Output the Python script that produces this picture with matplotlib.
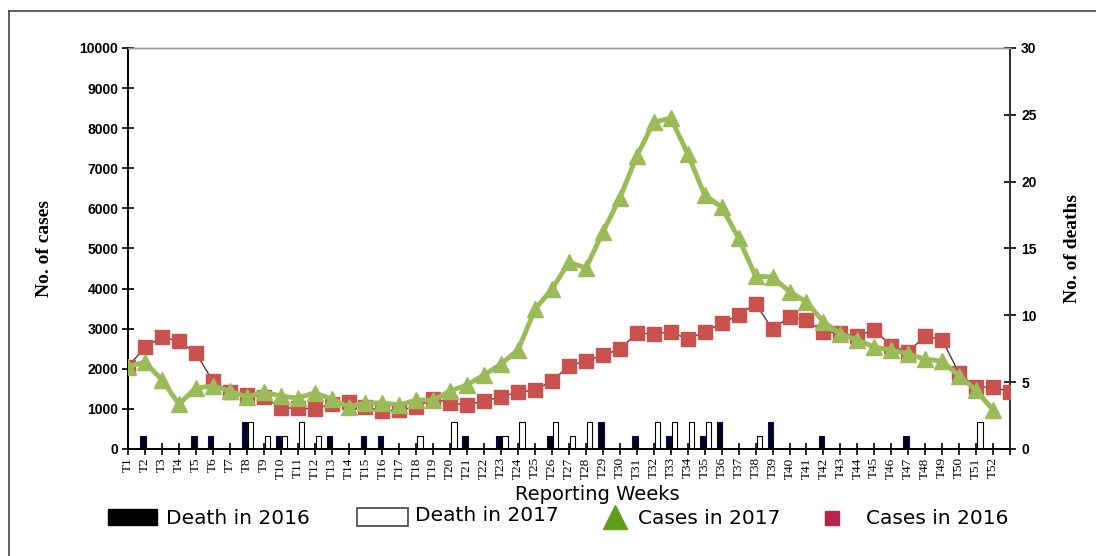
import numpy as np
import matplotlib
matplotlib.use("Agg")
import matplotlib.pyplot as plt
from matplotlib.patches import Rectangle
from matplotlib.lines import Line2D

weeks = ["T%d" % i for i in range(1, 53)]

cases_2017 = [2050, 2170, 1720, 1120, 1520, 1570, 1450, 1300, 1420, 1320,
              1270, 1400, 1250, 1050, 1150, 1150, 1100, 1220, 1220, 1450,
              1600, 1850, 2120, 2470, 3490, 3990, 4660, 4510, 5410, 6260,
              7310, 8150, 8250, 7360, 6330, 6030, 5260, 4310, 4290, 3920,
              3670, 3170, 2870, 2720, 2540, 2470, 2370, 2240, 2190, 1820,
              1470, 970]

# 2016 had one more reporting week
cases_2016 = [2050, 2540, 2790, 2690, 2390, 1700, 1420, 1350, 1300, 1020,
              1020, 1000, 1120, 1170, 1050, 950, 970, 1050, 1250, 1150,
              1100, 1200, 1300, 1420, 1470, 1700, 2070, 2200, 2340, 2490,
              2890, 2870, 2920, 2740, 2920, 3140, 3340, 3620, 2990, 3290,
              3220, 2920, 2890, 2820, 2970, 2570, 2420, 2820, 2720, 1890,
              1550, 1540, 1430]

death_2016 = [0, 1, 0, 0, 1, 1, 0, 2, 0, 1, 0, 0, 1, 0, 1, 1, 0, 0, 0, 0,
              1, 0, 1, 0, 0, 1, 0, 0, 2, 0, 1, 0, 1, 0, 1, 2, 0, 0, 2, 0,
              0, 1, 0, 0, 0, 0, 1, 0, 0, 0, 0, 0]
death_2017 = [0, 0, 0, 0, 0, 0, 0, 2, 1, 1, 2, 1, 0, 0, 0, 0, 0, 1, 0, 2,
              0, 0, 1, 2, 0, 2, 1, 2, 0, 0, 0, 2, 2, 2, 2, 0, 0, 1, 0, 0,
              0, 0, 0, 0, 0, 0, 0, 0, 0, 0, 2, 0]

x17 = np.arange(1, len(cases_2017) + 1)
x16 = np.arange(1, len(cases_2016) + 1)
d16 = np.array(death_2016)
d17 = np.array(death_2017)

fig = plt.figure(figsize=(10.96, 5.56), dpi=100)
ax = fig.add_axes([128 / 1096, 1 - 449 / 556, (1010 - 128) / 1096, (449 - 48) / 556])
ax2 = ax.twinx()

# deaths as thin bars on the right axis (skip empty weeks so no stub edges)
m16 = d16 > 0
m17 = d17 > 0
ax2.bar(x17[m16] - 0.12, d16[m16], width=0.32, color="black", edgecolor="#000080", linewidth=0.8)
ax2.bar(x17[m17] + 0.22, d17[m17], width=0.32, color="white", edgecolor="black", linewidth=0.8)
ax2.set_ylim(0, 30)
ax2.set_yticks(range(0, 31, 5))
ax2.set_ylabel("No. of deaths", family="Liberation Serif", fontweight="bold", fontsize=14, labelpad=20)

ax.set_zorder(ax2.get_zorder() + 1)
ax.patch.set_visible(False)

ax.plot(x16, cases_2016, color="#404040", linewidth=1, marker="s", markersize=9.5,
        markerfacecolor="#C9514E", markeredgecolor="#C9514E", zorder=3)
ax.plot(x17, cases_2017, color="#9BBB59", linewidth=3.5, marker="^", markersize=11,
        markerfacecolor="#9BBB59", markeredgecolor="#9BBB59", zorder=4)

ax.set_xlim(1, 53)
ax.set_ylim(0, 10000)
ax.set_yticks(range(0, 10001, 1000))
ax.set_xticks(range(1, 54))
ax.set_xticklabels(weeks + [""], rotation=90, family="Liberation Serif", fontsize=9.5)
ax.set_ylabel("No. of cases", family="Liberation Serif", fontweight="bold", fontsize=14, labelpad=19)

for a in (ax, ax2):
    for lab in a.get_yticklabels():
        lab.set_family("Liberation Sans")
        lab.set_fontweight("bold")
        lab.set_fontsize(10)
    a.spines["top"].set_color("#999999")
    a.spines["top"].set_linewidth(1)
    a.spines["left"].set_linewidth(1.3)
    a.spines["right"].set_linewidth(1.3)
    a.spines["right"].set_color("#333333")
    a.spines["bottom"].set_linewidth(1.3)
ax.tick_params(axis="y", direction="inout", length=8, width=1.2, pad=3)
ax.tick_params(axis="x", direction="inout", length=8, width=1.2, pad=2)
ax2.tick_params(axis="y", direction="inout", length=8, width=1.2, pad=4)

# outer frame (top and left only)
fig.add_artist(Line2D([9 / 1096, 9 / 1096], [0, 1 - 11 / 556], color="#444444", linewidth=1.2))
fig.add_artist(Line2D([9 / 1096, 1], [1 - 11 / 556, 1 - 11 / 556], color="#444444", linewidth=1.2))

fig.text(597 / 1096, 1 - 494 / 556, "Reporting Weeks", ha="center", va="center",
         family="DejaVu Sans", fontsize=14)

# legend drawn by hand across the bottom
ly = 1 - 518 / 556
fs = 14.5
fig.add_artist(Rectangle((108 / 1096, 1 - 525 / 556), 49 / 1096, 16 / 556,
                         facecolor="black", edgecolor="black"))
fig.text(166 / 1096, ly, "Death in 2016", va="center", family="DejaVu Sans", fontsize=fs)
fig.add_artist(Rectangle((357 / 1096, 1 - 526 / 556), 51 / 1096, 18 / 556,
                         facecolor="white", edgecolor="#444444", linewidth=1.2))
fig.text(415 / 1096, ly + 0.004, "Death in 2017", va="center", family="DejaVu Sans", fontsize=fs)
fig.add_artist(Line2D([615 / 1096], [1 - 517 / 556], marker="^", markersize=17,
                      color="#5E9E1A", linestyle="none"))
fig.text(638 / 1096, ly, "Cases in 2017", va="center", family="DejaVu Sans", fontsize=fs)
fig.add_artist(Line2D([832 / 1096], [1 - 518 / 556], marker="s", markersize=10,
                      color="#B82350", linestyle="none"))
fig.text(866 / 1096, ly, "Cases in 2016", va="center", family="DejaVu Sans", fontsize=fs)

fig.savefig("out.png", dpi=100)
